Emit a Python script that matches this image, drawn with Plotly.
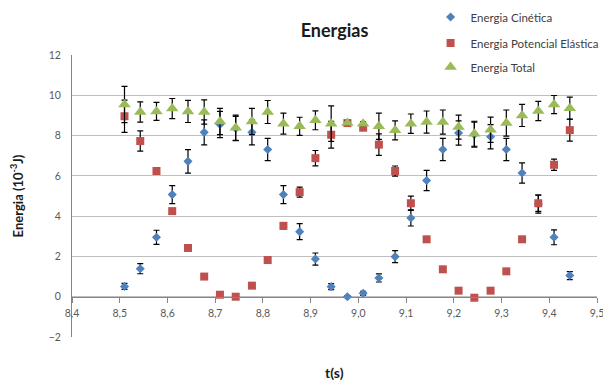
import plotly.graph_objects as go

t = [8.510, 8.543, 8.577, 8.610, 8.643, 8.677, 8.710, 8.743, 8.777, 8.810,
     8.843, 8.877, 8.910, 8.943, 8.977, 9.010, 9.043, 9.077, 9.110, 9.143,
     9.177, 9.210, 9.243, 9.277, 9.310, 9.343, 9.377, 9.410, 9.443]

ec = [0.51, 1.39, 2.95, 5.07, 6.72, 8.16, 8.55, 8.35, 8.16, 7.31,
      5.07, 3.23, 1.87, 0.50, 0.00, 0.17, 0.93, 1.99, 3.91, 5.77,
      7.31, 8.13, 8.05, 7.94, 7.31, 6.14, 4.60, 2.95, 1.05]
ec_err = [0.15, 0.25, 0.35, 0.45, 0.58, 0.62, 0.65, 0.60, 0.62, 0.55,
          0.45, 0.40, 0.30, 0.15, 0.05, 0.10, 0.20, 0.30, 0.40, 0.50,
          0.55, 0.60, 0.62, 0.60, 0.55, 0.50, 0.45, 0.37, 0.20]

ep = [8.96, 7.73, 6.24, 4.25, 2.42, 1.00, 0.10, 0.00, 0.55, 1.82,
      3.52, 5.19, 6.88, 8.04, 8.62, 8.39, 7.55, 6.24, 4.64, 2.85,
      1.36, 0.30, -0.05, 0.30, 1.26, 2.85, 4.64, 6.55, 8.27]
ep_err = [0.80, 0.50, 0.15, 0.10, 0.05, 0.03, 0.01, 0.00, 0.03, 0.10,
          0.15, 0.25, 0.38, 0.66, 0.15, 0.10, 0.53, 0.25, 0.35, 0.10,
          0.05, 0.02, 0.00, 0.02, 0.05, 0.10, 0.40, 0.28, 0.55]

et = [9.54, 9.17, 9.20, 9.34, 9.20, 9.17, 8.70, 8.39, 8.70, 9.17,
      8.59, 8.46, 8.76, 8.59, 8.62, 8.59, 8.46, 8.26, 8.59, 8.67,
      8.67, 8.42, 8.09, 8.29, 8.62, 9.00, 9.22, 9.54, 9.36]
et_err = [0.90, 0.50, 0.45, 0.50, 0.55, 0.60, 0.65, 0.63, 0.65, 0.57,
          0.52, 0.45, 0.47, 0.88, 0.10, 0.10, 0.65, 0.47, 0.48, 0.55,
          0.60, 0.60, 0.62, 0.63, 0.65, 0.55, 0.48, 0.45, 0.55]

names = ["Energia Cinética", "Energia Potencial Elástica", "Energia Total"]
colors = ["#4F81BD", "#C0504D", "#9BBB59"]
symbols = ["diamond", "square", "triangle-up"]
sizes = [7, 8, 11]

FONT = "Lato, 'Open Sans', sans-serif"

# the page body has an 8px margin: size the figure so the plot area lands
# where it is in the reference (plot area x 72..597, y 55..337 of the window)
W, H = 603, 372
ML, MT, MR, MB = 64, 47, 14, 43
PH = H - MT - MB

fig = go.Figure()
for k, (y, err) in enumerate([(ec, ec_err), (ep, ep_err), (et, et_err)]):
    fig.add_trace(go.Scatter(
        x=t, y=y, mode="markers", name=names[k],
        legend=["legend", "legend2", "legend3"][k],
        marker=dict(symbol=symbols[k], size=sizes[k], color=colors[k],
                    line=dict(width=0)),
        error_y=dict(type="data", array=err, visible=True, color="black",
                     thickness=1.2, width=3),
    ))

leg_common = dict(bgcolor="rgba(0,0,0,0)", font=dict(family=FONT, size=11.5, color="#404040"),
                  xanchor="left", yanchor="middle", x=0.683, itemwidth=30)

def py(pix):
    # window pixel y -> paper y
    return (MT + 8 + PH - pix) / PH

fig.update_layout(
    width=W, height=H,
    margin=dict(l=ML, r=MR, t=MT, b=MB, autoexpand=False),
    paper_bgcolor="white", plot_bgcolor="white",
    separators=",.",
    font=dict(family=FONT, size=10, color="#595959"),
    title=dict(text="<b>Energias</b>", x=0.5, xref="paper", xanchor="center",
               y=1 - (31 - 8) / H, yanchor="middle",
               font=dict(family=FONT, size=18, color="#1a1a1a")),
    legend=dict(**leg_common, y=py(17)),
    legend2=dict(**leg_common, y=py(43)),
    legend3=dict(**leg_common, y=py(67)),
    xaxis=dict(range=[8.4, 9.5], dtick=0.1, tick0=8.4, tickformat=".1f",
               anchor="free", position=2 / 14,
               showgrid=False, zeroline=False,
               showline=True, linecolor="#868686", linewidth=1,
               ticks="outside", ticklen=5, tickcolor="#868686",
               ticklabelstandoff=2,
               tickfont=dict(family=FONT, size=10.5, color="#595959")),
    yaxis=dict(range=[-2, 12], dtick=2, tick0=-2,
               showgrid=True, gridcolor="#BFBFBF", gridwidth=1,
               zeroline=False, showline=True, linecolor="#868686", linewidth=1,
               ticks="", ticklabelstandoff=8,
               tickfont=dict(family=FONT, size=10.5, color="#595959"),
               title=dict(text="<b>Energia (10<sup>-3</sup>J)</b>", standoff=22,
                          font=dict(family=FONT, size=13, color="#1a1a1a"))),
    showlegend=True,
)

fig.add_annotation(text="<b>t(s)</b>", xref="paper", yref="paper",
                   x=0.5, y=py(372), xanchor="center", yanchor="middle",
                   showarrow=False, font=dict(family=FONT, size=14, color="#1a1a1a"))

fig.write_html("out.html")
